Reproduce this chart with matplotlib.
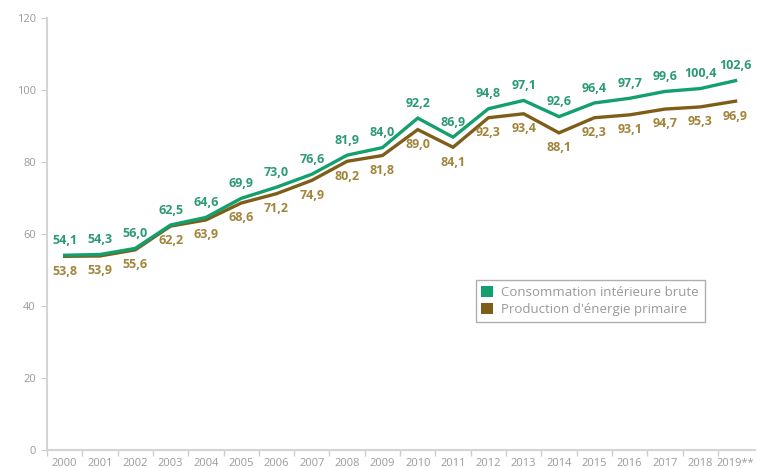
import matplotlib.pyplot as plt
from matplotlib.patches import Patch

years = [str(y) for y in range(2000, 2019)] + ["2019**"]
consommation = [54.1, 54.3, 56.0, 62.5, 64.6, 69.9, 73.0, 76.6, 81.9, 84.0,
                92.2, 86.9, 94.8, 97.1, 92.6, 96.4, 97.7, 99.6, 100.4, 102.6]
production = [53.8, 53.9, 55.6, 62.2, 63.9, 68.6, 71.2, 74.9, 80.2, 81.8,
              89.0, 84.1, 92.3, 93.4, 88.1, 92.3, 93.1, 94.7, 95.3, 96.9]
y_ticks = [0, 20, 40, 60, 80, 100, 120]

GREEN = "#12a06c"
BROWN = "#7f5d19"
GREEN_TXT = "#2a9a74"
BROWN_TXT = "#a2843a"
GREY = "#9a9a9a"

plt.rcParams["font.family"] = ["Open Sans", "DejaVu Sans"]

fig = plt.figure(figsize=(7.58, 4.68), dpi=100)
ax = fig.add_axes([0.062, 0.0385, 0.934, 0.923])

x = list(range(len(years)))
ax.plot(x, production, color=BROWN, lw=2.4, solid_joinstyle="miter", zorder=2)
ax.plot(x, consommation, color=GREEN, lw=2.4, solid_joinstyle="miter", zorder=3)

def fmt(v):
    return f"{v:.1f}".replace(".", ",")

for i in x:
    ax.annotate(fmt(consommation[i]), (i, consommation[i]), xytext=(0, 6),
                textcoords="offset points", ha="center", va="bottom",
                color=GREEN_TXT, fontsize=9, fontweight="bold")
    ax.annotate(fmt(production[i]), (i, production[i]), xytext=(0, -6),
                textcoords="offset points", ha="center", va="top",
                color=BROWN_TXT, fontsize=9, fontweight="bold")

ax.set_xlim(-0.5, 19.55)
ax.set_ylim(0, 120)
ax.set_yticks(y_ticks)
ax.set_xticks(x)
ax.set_xticklabels(years)
ax.set_xticks([i - 0.5 for i in x], minor=True)
ax.tick_params(axis="x", which="major", length=0, pad=6, labelsize=8, labelcolor=GREY)
ax.tick_params(axis="x", which="minor", length=4, color="#cccccc", width=1)
ax.tick_params(axis="y", length=4, color="#cccccc", labelsize=8, labelcolor=GREY, pad=4)

for side in ["top", "right"]:
    ax.spines[side].set_visible(False)
for side in ["left", "bottom"]:
    ax.spines[side].set_color("#d4d4d4")
    ax.spines[side].set_linewidth(1.5)

handles = [Patch(facecolor=GREEN, edgecolor="none", label="Consommation intérieure brute"),
           Patch(facecolor=BROWN, edgecolor="none", label="Production d'énergie primaire")]
leg = ax.legend(handles=handles, loc="lower left", bbox_to_anchor=(0.596, 0.282),
                fontsize=9.5, frameon=True, fancybox=False, handlelength=0.9,
                handleheight=0.9, handletextpad=0.6, borderpad=0.45, labelspacing=0.25)
leg.get_frame().set_edgecolor("#9a9a9a")
leg.get_frame().set_linewidth(1)
for t in leg.get_texts():
    t.set_color(GREY)

fig.savefig("out.png", dpi=100)
